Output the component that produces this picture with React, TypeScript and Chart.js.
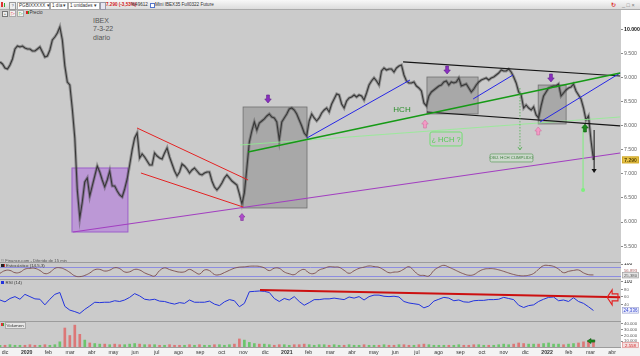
import React, { useEffect, useRef } from "react";
import { Chart, registerables } from "chart.js";

Chart.register(...registerables);

// ---------------- data ----------------
// x axis in months counted from 1 Dec 2019 (0 = dic 2019, 1 = ene 2020 ...)
const X_MIN = -0.23;
const X_MAX = 28.41;
const SERIES_START = -0.23; // week of 25 Nov 2019
const HALF_WEEK = 0.115; // price sampled twice a week
const WEEK = 0.23; // indicators and volume sampled weekly

const monthLabels = [
  "dic", "2020", "feb", "mar", "abr", "may", "jun", "jul", "ago", "sep", "oct", "nov",
  "dic", "2021", "feb", "mar", "abr", "may", "jun", "jul", "ago", "sep", "oct", "nov",
  "dic", "2022", "feb", "mar", "abr",
];
const priceTicks = [5500, 6000, 6500, 7000, 7500, 8000, 8500, 9000, 9500, 10000];
const stochTicks = [100];
const stochLevels = [20, 80];
const rsiTicks = [40, 60, 80, 100];
const volumeTicks = [10000, 20000, 30000, 40000];

const ibexClose = [
  9321, 9280, 9197, 9176, 9259, 9384, 9591, 9653, 9633, 9653,
  9612, 9591, 9591, 9550, 9550, 9591, 9633, 9529, 9425, 9446,
  9570, 9778, 9840, 9923, 10048, 9778, 9239, 8906, 8844, 8346,
  7744, 6666, 6085, 6417, 6832, 6915, 6541, 6749, 6956, 7164,
  7039, 6873, 6728, 6873, 7060, 6749, 6749, 6645, 6562, 6520,
  6686, 6894, 7184, 7496, 7744, 7848, 7330, 7413, 7350, 7267,
  7184, 7184, 7433, 7371, 7330, 7309, 7433, 7537, 7350, 7205,
  7060, 6956, 7039, 7205, 7164, 7101, 7018, 7080, 7122, 7060,
  6998, 6977, 7018, 7039, 7039, 6852, 6728, 6666, 6728, 6811,
  6915, 6977, 6915, 6852, 6811, 6770, 6583, 6375, 6603, 7122,
  7662, 7890, 8077, 7910, 8056, 8097, 8139, 8201, 8243, 8180,
  8160, 8077, 7703, 8077, 8160, 8243, 8346, 8367, 8325, 8243,
  8118, 7994, 7848, 7786, 8097, 8243, 8160, 8097, 8160, 8263,
  8325, 8367, 8284, 8450, 8554, 8658, 8637, 8450, 8367, 8512,
  8575, 8595, 8637, 8595, 8637, 8616, 8533, 8678, 8844, 8927,
  8990, 8927, 8844, 9135, 9197, 9155, 9176, 9176, 9114, 9197,
  9239, 9260, 9052, 8927, 8886, 8886, 8907, 8823, 8782, 8720,
  8471, 8409, 8616, 8699, 8740, 8782, 8823, 8844, 8907, 8927,
  8844, 8907, 8886, 8907, 8990, 8823, 8844, 8865, 8782, 8699,
  8761, 8844, 8907, 8948, 8969, 8990, 8948, 8990, 9010, 9052,
  9093, 9155, 9135, 9135, 9176, 9114, 9010, 8886, 8699, 8637,
  8367, 8429, 8367, 8325, 8388, 8222, 8160, 8409, 8616, 8699,
  8782, 8803, 8823, 8823, 8865, 8616, 8678, 8740, 8782, 8803,
  8865, 8720, 8637, 8554, 8367, 8118, 8201, 7703, 7288,
];
const lastPrice = 7290;

const stochastic = [
  38, 56, 57, 42, 45, 66, 71, 71, 57, 36,
  44, 71, 75, 64, 44, 21, 16, 24, 40, 62,
  64, 53, 59, 75, 69, 47, 48, 64, 60, 41,
  28, 20, 56, 74, 63, 53, 46, 48, 64, 48,
  33, 60, 56, 30, 29, 43, 58, 72, 79, 81,
  85, 86, 84, 74, 56, 72, 71, 47, 35, 29,
  52, 64, 40, 37, 60, 71, 82, 80, 78, 58,
  38, 55, 71, 79, 87, 83, 78, 60, 42, 46,
  49, 66, 82, 55, 27, 24, 20, 57, 79, 91,
  79, 64, 48, 34, 25, 29, 50, 65, 69, 68,
  61, 51, 40, 30, 23, 21, 25, 37, 65, 89,
  90, 84, 66, 42, 51, 57, 60, 41, 29, 27,
];
const stochLabels = [
  { value: 56, text: "56,893" },
  { value: 25, text: "25,380" },
];

const rsi14 = [
  52, 47, 56, 61, 54, 67, 61, 55, 54, 39,
  54, 67, 72, 35, 25, 21, 16, 27, 36, 46,
  45, 46, 46, 50, 48, 52, 59, 69, 63, 54,
  52, 54, 49, 48, 44, 41, 45, 43, 52, 46,
  46, 46, 49, 41, 37, 47, 53, 50, 34, 43,
  74, 75, 76, 75, 72, 56, 48, 56, 52, 61,
  48, 38, 45, 53, 53, 55, 55, 57, 55, 53,
  60, 57, 61, 52, 61, 65, 65, 62, 61, 62,
  60, 48, 44, 42, 40, 31, 36, 49, 54, 59,
  57, 50, 52, 47, 46, 50, 51, 51, 53, 53,
  54, 59, 56, 53, 38, 32, 37, 39, 48, 54,
  59, 60, 50, 52, 48, 58, 48, 43, 34, 24,
];
const lastRsi = 24.336;

const volumeK = [
  3, 3, 4, 3, 3, 3, 4, 3, 3, 4, 3, 4, 9, 33, 20, 38, 22, 12, 7, 6,
  5, 5, 4, 5, 4, 4, 5, 6, 5, 4, 4, 4, 3, 3, 4, 3, 3, 3, 4, 3,
  4, 3, 3, 4, 4, 3, 4, 5, 14, 12, 8, 6, 5, 5, 4, 3, 4, 4, 3, 4,
  4, 5, 4, 3, 4, 4, 3, 4, 3, 3, 4, 3, 3, 4, 3, 3, 3, 4, 3, 3,
  4, 4, 3, 3, 4, 5, 4, 3, 3, 3, 3, 3, 4, 3, 3, 4, 4, 3, 3, 3,
  4, 5, 4, 5, 7, 6, 5, 5, 5, 6, 7, 5, 5, 4, 5, 6, 7, 9, 10, 8,
];
const currentVolume = 2558;

// ---- drawn studies (price/time coordinates) ----
const purpleBox = { x0: 3.09, x1: 5.67, y0: 7122, y1: 5794 };
const grayBoxes = [
  { x0: 10.98, x1: 13.93, y0: 8388, y1: 6292 },
  { x0: 19.46, x1: 21.82, y0: 9010, y1: 8243 },
  { x0: 24.59, x1: 25.88, y0: 8844, y1: 8035 },
];
const supportLine = [[3.14, 5794], [28.37, 7433]];
const redChannel = [
  [[6.09, 7952], [11.21, 6873]],
  [[6.27, 7018], [10.98, 6313]],
];
const necklineHCH = [[11.21, 7454], [28.37, 9093]];
const lightGreenLine = [[10.84, 7599], [28.37, 8180]];
const blueLines = [
  [[13.93, 7745], [18.68, 8948]],
  [[21.59, 8554], [23.43, 9052]],
  [[24.68, 8077], [28.37, 9093]],
];
const blackChannel = [
  [[18.36, 9322], [28.37, 9031]],
  [[19.46, 8284], [28.37, 7994]],
];
const purpleDownArrows = [[12.13, 8554], [20.39, 9155], [25.18, 8990]];
const pinkUpArrows = [[19.37, 8035], [24.59, 7890]];
const purpleUpArrow = [10.93, 6105];
const greenUpArrow = [26.75, 7952];
const greenTarget = { x: 26.66, from: 8014, to: 6666 };
const hchObjective = { x: 23.75, from: 8782, to: 7496 };
const blackDrop = { x: 27.17, from: 7910, to: 7018 };
const hchLabel = { text: "HCH", x: 18.31, y: 8325 };
const hchQuestion = { text: "¿ HCH ?", x0: 19.6, x1: 21.08, y0: 7869, y1: 7579 };
const hchDone = { text: "OBJ. HCH CUMPLIDO", x0: 22.37, x1: 24.35, y0: 7413, y1: 7247 };
const rsiTrend = [[11.76, 78.7], [28.37, 59]];
const rsiArrow = { tip: 27.77, tail: 28.27, value: 59 };
const volumeArrow = { tip: 26.85, tail: 27.2, value: 10400 };

// ---------------- helpers ----------------
const FONT = "'Liberation Sans', Arial, sans-serif";
const fmtThousands = (v: number) =>
  String(Math.round(v)).replace(/\B(?=(\d{3})+(?!\d))/g, ".");

function seg(ctx: CanvasRenderingContext2D, x1: number, y1: number, x2: number, y2: number, color: string, width: number, dash: number[] = []) {
  ctx.save();
  ctx.strokeStyle = color;
  ctx.lineWidth = width;
  ctx.setLineDash(dash);
  ctx.beginPath();
  ctx.moveTo(x1, y1);
  ctx.lineTo(x2, y2);
  ctx.stroke();
  ctx.restore();
}

function blockArrow(ctx: CanvasRenderingContext2D, cx: number, cy: number, angle: number, fill: string, stroke: string, w = 7, h = 8) {
  const sw = w * 0.22, hw = w / 2;
  ctx.save();
  ctx.translate(cx, cy);
  ctx.rotate(angle);
  ctx.beginPath();
  ctx.moveTo(-sw, -h / 2);
  ctx.lineTo(sw, -h / 2);
  ctx.lineTo(sw, 0);
  ctx.lineTo(hw, 0);
  ctx.lineTo(0, h / 2);
  ctx.lineTo(-hw, 0);
  ctx.lineTo(-sw, 0);
  ctx.closePath();
  ctx.fillStyle = fill;
  ctx.fill();
  ctx.strokeStyle = stroke;
  ctx.lineWidth = 0.6;
  ctx.stroke();
  ctx.restore();
}

function axisBox(ctx: CanvasRenderingContext2D, left: number, y: number, text: string, fill: string, stroke: string, color: string, size = 4.6, bold = false) {
  ctx.save();
  ctx.font = `${bold ? "bold " : ""}${size}px ${FONT}`;
  const w = 17, h = size + 2;
  if (fill !== "none") {
    ctx.fillStyle = fill;
    ctx.fillRect(left + 1, y - h / 2, w, h);
  }
  if (stroke !== "none") {
    ctx.strokeStyle = stroke;
    ctx.lineWidth = 0.6;
    ctx.strokeRect(left + 1.5, y - h / 2 + 0.5, w - 1, h - 1);
  }
  ctx.fillStyle = color;
  ctx.textBaseline = "middle";
  ctx.textAlign = "center";
  ctx.fillText(text, left + 1 + w / 2, y + 0.3);
  ctx.restore();
}

const rightAxisFit = (s: any) => {
  s.width = 19;
  s.paddingTop = 0;
  s.paddingBottom = 0;
};

function rightAxis(min: number, max: number, ticks: number[], fontFn: any, colorFn: any) {
  return {
    type: "linear",
    position: "right",
    min,
    max,
    afterBuildTicks: (s: any) => {
      s.ticks = ticks.map((v) => ({ value: v }));
    },
    afterFit: rightAxisFit,
    ticks: {
      autoSkip: false,
      padding: 1,
      font: fontFn,
      color: colorFn,
      callback: (v: number) => fmtThousands(v),
    },
    grid: { drawOnChartArea: false, drawTicks: true, tickLength: 2, color: "#8a8a8a" },
    border: { display: false },
  };
}

const hiddenX = { type: "linear", min: X_MIN, max: X_MAX, display: false, offset: false };

const baseOptions = {
  responsive: false,
  animation: false,
  events: [],
  layout: { padding: 0, autoPadding: false },
  plugins: { legend: { display: false }, tooltip: { enabled: false } },
};

// ---------------- plugins ----------------
const mainStudies = {
  id: "mainStudies",
  beforeDatasetsDraw(chart: any) {
    const { ctx, scales } = chart;
    const X = (v: number) => scales.x.getPixelForValue(v);
    const Y = (v: number) => scales.y.getPixelForValue(v);
    ctx.save();
    ctx.fillStyle = "rgba(184,140,216,0.82)";
    ctx.fillRect(X(purpleBox.x0), Y(purpleBox.y0), X(purpleBox.x1) - X(purpleBox.x0), Y(purpleBox.y1) - Y(purpleBox.y0));
    ctx.strokeStyle = "#9b5fc9";
    ctx.lineWidth = 1;
    ctx.strokeRect(X(purpleBox.x0), Y(purpleBox.y0), X(purpleBox.x1) - X(purpleBox.x0), Y(purpleBox.y1) - Y(purpleBox.y0));
    grayBoxes.forEach((b) => {
      ctx.fillStyle = "rgba(118,118,118,0.42)";
      ctx.fillRect(X(b.x0), Y(b.y0), X(b.x1) - X(b.x0), Y(b.y1) - Y(b.y0));
      ctx.strokeStyle = "rgba(90,90,90,0.75)";
      ctx.lineWidth = 0.8;
      ctx.strokeRect(X(b.x0), Y(b.y0), X(b.x1) - X(b.x0), Y(b.y1) - Y(b.y0));
    });
    ctx.restore();
  },
  afterDatasetsDraw(chart: any) {
    const { ctx, scales } = chart;
    const X = (v: number) => scales.x.getPixelForValue(v);
    const Y = (v: number) => scales.y.getPixelForValue(v);
    const L = (l: number[][], c: string, w: number, d: number[] = []) =>
      seg(ctx, X(l[0][0]), Y(l[0][1]), X(l[1][0]), Y(l[1][1]), c, w, d);

    L(lightGreenLine, "#8ff08f", 0.8);
    L(supportLine, "#a23fc0", 1.2);
    redChannel.forEach((l) => L(l, "#e42222", 1));
    blackChannel.forEach((l) => L(l, "#151515", 1.2));
    blueLines.forEach((l) => L(l, "#2626e6", 1));
    L(necklineHCH, "#169a16", 1.5);

    const gx = X(greenTarget.x);
    seg(ctx, gx, Y(greenTarget.from), gx, Y(greenTarget.to), "#7df07d", 1);
    ctx.save();
    ctx.fillStyle = "#7df07d";
    ctx.beginPath();
    ctx.arc(gx, Y(greenTarget.to), 2, 0, Math.PI * 2);
    ctx.fill();
    ctx.restore();

    const ox = X(hchObjective.x), oyb = Y(hchObjective.to);
    seg(ctx, ox, Y(hchObjective.from), ox, oyb, "#4fae4f", 0.8, [1.5, 1.5]);
    seg(ctx, ox - 2, oyb - 3, ox, oyb, "#4fae4f", 0.8);
    seg(ctx, ox + 2, oyb - 3, ox, oyb, "#4fae4f", 0.8);

    const bx = X(blackDrop.x), byb = Y(blackDrop.to);
    seg(ctx, bx, Y(blackDrop.from), bx, byb - 3, "#111", 1);
    ctx.save();
    ctx.fillStyle = "#111";
    ctx.beginPath();
    ctx.moveTo(bx - 2.6, byb - 4);
    ctx.lineTo(bx + 2.6, byb - 4);
    ctx.lineTo(bx, byb);
    ctx.closePath();
    ctx.fill();
    ctx.restore();

    purpleDownArrows.forEach((a) => blockArrow(ctx, X(a[0]), Y(a[1]), 0, "#8a2fc0", "#5e1c8a", 6.5, 8));
    pinkUpArrows.forEach((a) => blockArrow(ctx, X(a[0]), Y(a[1]), Math.PI, "#f49ac6", "#d070a0", 6.5, 8));
    blockArrow(ctx, X(purpleUpArrow[0]), Y(purpleUpArrow[1]), Math.PI, "#b04ccc", "#80309a", 6, 7);
    blockArrow(ctx, X(greenUpArrow[0]), Y(greenUpArrow[1]), Math.PI, "#1e8c1e", "#0c560c", 6.5, 8);

    ctx.save();
    ctx.textAlign = "center";
    ctx.textBaseline = "middle";
    ctx.font = `8px ${FONT}`;
    ctx.fillStyle = "#2b8f2b";
    ctx.fillText(hchLabel.text, X(hchLabel.x), Y(hchLabel.y));

    const qx0 = X(hchQuestion.x0), qx1 = X(hchQuestion.x1), qy0 = Y(hchQuestion.y0), qy1 = Y(hchQuestion.y1);
    ctx.strokeStyle = "#72e072";
    ctx.lineWidth = 1;
    ctx.beginPath();
    (ctx as any).roundRect(qx0, qy0, qx1 - qx0, qy1 - qy0, 2);
    ctx.stroke();
    ctx.fillStyle = "#52cc52";
    ctx.font = `7.5px ${FONT}`;
    ctx.fillText(hchQuestion.text, (qx0 + qx1) / 2, (qy0 + qy1) / 2 + 0.5);

    const dx0 = X(hchDone.x0), dx1 = X(hchDone.x1), dy0 = Y(hchDone.y0), dy1 = Y(hchDone.y1);
    ctx.fillStyle = "rgba(205,225,205,0.6)";
    ctx.beginPath();
    (ctx as any).roundRect(dx0, dy0, dx1 - dx0, dy1 - dy0, 1.5);
    ctx.fill();
    ctx.strokeStyle = "#5c9e5c";
    ctx.lineWidth = 0.7;
    ctx.stroke();
    ctx.fillStyle = "#3d7f3d";
    ctx.font = `4.3px ${FONT}`;
    ctx.fillText(hchDone.text, (dx0 + dx1) / 2, (dy0 + dy1) / 2 + 0.3);
    ctx.restore();
  },
  afterDraw(chart: any) {
    const { ctx, scales, chartArea } = chart;
    axisBox(ctx, chartArea.right, scales.y.getPixelForValue(lastPrice), fmtThousands(lastPrice), "#e6c245", "#c49a20", "#5a4500", 5, true);
  },
};

const stochStudies = {
  id: "stochStudies",
  beforeDatasetsDraw(chart: any) {
    const { ctx, scales, chartArea } = chart;
    stochLevels.forEach((lv) => {
      const y = Math.round(scales.y.getPixelForValue(lv)) + 0.5;
      seg(ctx, chartArea.left, y, chartArea.right, y, "#8d8de0", 1);
    });
  },
  afterDraw(chart: any) {
    const { ctx, scales, chartArea } = chart;
    axisBox(ctx, chartArea.right, scales.y.getPixelForValue(stochLabels[0].value), stochLabels[0].text, "none", "none", "#a86060", 4.3);
    axisBox(ctx, chartArea.right, scales.y.getPixelForValue(stochLabels[1].value), stochLabels[1].text, "#e4e4e4", "#9a9a9a", "#555", 4.3);
  },
};

const rsiStudies = {
  id: "rsiStudies",
  afterDatasetsDraw(chart: any) {
    const { ctx, scales } = chart;
    const X = (v: number) => scales.x.getPixelForValue(v);
    const Y = (v: number) => scales.y.getPixelForValue(v);
    seg(ctx, X(rsiTrend[0][0]), Y(rsiTrend[0][1]), X(rsiTrend[1][0]), Y(rsiTrend[1][1]), "#cc1010", 2);
    const tx = X(rsiArrow.tip), ty = Y(rsiArrow.value), len = X(rsiArrow.tail) - tx;
    ctx.save();
    ctx.strokeStyle = "#e42020";
    ctx.lineWidth = 1.1;
    ctx.beginPath();
    ctx.moveTo(tx, ty);
    ctx.lineTo(tx + 5, ty - 7.5);
    ctx.lineTo(tx + 5, ty - 3.5);
    ctx.lineTo(tx + len, ty - 3.5);
    ctx.lineTo(tx + len, ty + 3.5);
    ctx.lineTo(tx + 5, ty + 3.5);
    ctx.lineTo(tx + 5, ty + 7.5);
    ctx.closePath();
    ctx.stroke();
    ctx.restore();
  },
  afterDraw(chart: any) {
    const { ctx, scales, chartArea } = chart;
    axisBox(ctx, chartArea.right, scales.y.getPixelForValue(lastRsi), lastRsi.toFixed(3).replace(".", ","), "#eef0ff", "#9aa0c8", "#3344cc", 4.5);
  },
};

const volumeStudies = {
  id: "volumeStudies",
  afterDatasetsDraw(chart: any) {
    const { ctx, scales } = chart;
    const tx = scales.x.getPixelForValue(volumeArrow.tip);
    const tl = scales.x.getPixelForValue(volumeArrow.tail) - tx;
    blockArrow(ctx, tx + tl / 2, scales.y.getPixelForValue(volumeArrow.value), Math.PI / 2, "#1e8c1e", "#0c560c", 5, tl);
  },
  afterDraw(chart: any) {
    const { ctx, scales, chartArea } = chart;
    axisBox(ctx, chartArea.right, scales.y.getPixelForValue(currentVolume) - 0.5, fmtThousands(currentVolume), "#f4dede", "#d88", "#d02020", 4.3);
  },
};

// ---------------- component ----------------
const abs = (left: number, top: number, extra: any = {}) => ({ position: "absolute" as const, left, top, ...extra });

export default function App() {
  const mainRef = useRef<HTMLCanvasElement>(null);
  const stochRef = useRef<HTMLCanvasElement>(null);
  const rsiRef = useRef<HTMLCanvasElement>(null);
  const volRef = useRef<HTMLCanvasElement>(null);

  useEffect(() => {
    Chart.defaults.font.family = FONT;
    const priceData = ibexClose.map((v, i) => ({ x: SERIES_START + i * HALF_WEEK, y: v }));
    const weekly = (arr: number[], k = 1) => arr.map((v, i) => ({ x: SERIES_START + i * WEEK, y: v * k }));

    const smallFont = () => ({ size: 5, family: FONT });
    const grayTick = () => "#555";

    const main = new Chart(mainRef.current!, {
      type: "line",
      data: {
        datasets: [
          // bar-range shade under the close line
          { data: priceData, borderColor: "rgba(70,70,70,0.42)", borderWidth: 3, pointRadius: 0, tension: 0 },
          { data: priceData, borderColor: "#2e2e2e", borderWidth: 1.1, pointRadius: 0, tension: 0 },
        ],
      },
      options: {
        ...baseOptions,
        scales: {
          x: hiddenX,
          y: rightAxis(
            5213,
            10400,
            priceTicks,
            (c: any) => ({ size: 5.2, family: FONT, weight: c.tick && c.tick.value === 10000 ? "bold" : "normal" }),
            (c: any) => (c.tick && c.tick.value === 10000 ? "#111" : "#666")
          ),
        },
      } as any,
      plugins: [mainStudies],
    });

    const stoch = new Chart(stochRef.current!, {
      type: "line",
      data: {
        datasets: [
          { data: weekly(stochastic), borderColor: "#7a4c4c", borderWidth: 0.9, pointRadius: 0, tension: 0.45 },
        ],
      },
      options: {
        ...baseOptions,
        scales: { x: hiddenX, y: rightAxis(0, 106.7, stochTicks, smallFont, () => "#222") },
      } as any,
      plugins: [stochStudies],
    });

    const rsi = new Chart(rsiRef.current!, {
      type: "line",
      data: {
        datasets: [
          { data: weekly(rsi14), borderColor: "#2233dd", borderWidth: 1, pointRadius: 0, tension: 0 },
        ],
      },
      options: {
        ...baseOptions,
        scales: {
          x: hiddenX,
          y: rightAxis(-4, 105.33, rsiTicks, (c: any) => ({ size: c.tick && c.tick.value === 100 ? 5 : 4.3, family: FONT }), (c: any) => (c.tick && c.tick.value === 100 ? "#222" : "#666")),
        },
      } as any,
      plugins: [rsiStudies],
    });

    const vol = new Chart(volRef.current!, {
      type: "bar",
      data: {
        datasets: [
          {
            data: weekly(volumeK, 1000),
            barThickness: 2,
            backgroundColor: (c: any) => {
              const i = c.dataIndex;
              const a = ibexClose[Math.min(2 * i, ibexClose.length - 1)];
              const b = ibexClose[Math.max(2 * i - 2, 0)];
              return a >= b ? "rgba(96,196,96,0.9)" : "rgba(222,110,110,0.9)";
            },
          },
        ],
      },
      options: {
        ...baseOptions,
        scales: {
          x: {
            type: "linear",
            min: X_MIN,
            max: X_MAX,
            offset: false,
            position: "bottom",
            afterBuildTicks: (s: any) => {
              s.ticks = monthLabels.map((_, i) => ({ value: i }));
            },
            afterFit: (s: any) => {
              s.height = 9;
              s.paddingLeft = 0;
              s.paddingRight = 0;
            },
            ticks: {
              autoSkip: false,
              maxRotation: 0,
              minRotation: 0,
              padding: 2,
              color: "#333",
              font: (c: any) => ({
                size: 5.2,
                family: FONT,
                weight: c.tick && /^\d{4}$/.test(monthLabels[Math.round(c.tick.value)]) ? "bold" : "normal",
              }),
              callback: (v: number) => monthLabels[Math.round(v)],
            },
            grid: { display: false, drawTicks: false },
            border: { display: false },
          },
          y: rightAxis(0, 45217, volumeTicks, () => ({ size: 4.3, family: FONT }), grayTick),
        },
      } as any,
      plugins: [volumeStudies],
    });

    return () => {
      main.destroy();
      stoch.destroy();
      rsi.destroy();
      vol.destroy();
    };
  }, []);

  const tb = { fontSize: 4.6, lineHeight: "6px", color: "#333", whiteSpace: "nowrap" as const };
  const sep = (top: number) => <div style={abs(0, top, { width: 621, height: 1, background: "#9c9c9c" })} />;

  return (
    <div style={{ position: "fixed", left: 0, top: 0, width: 640, height: 356, overflow: "hidden", background: "#cbcbcb", fontFamily: FONT }}>
      <div style={abs(0, 0, { width: 640, height: 9, background: "linear-gradient(#f8f8f8,#dcdcdc)", borderBottom: "1px solid #aaa" })}>
        <div style={abs(1, 2, { width: 1.5, height: 5, background: "#d33" })} />
        <div style={abs(3.5, 3, { width: 1.5, height: 4, background: "#3a3" })} />
        <div style={abs(9, 1.5, { width: 5, height: 6, border: "0.5px solid #999", background: "#eee", fontSize: 4, lineHeight: "6px", textAlign: "center", color: "#557" })}>?</div>
        <div style={abs(17, 1.5, { ...tb, width: 30, height: 6, background: "#fff", border: "0.5px solid #aaa", paddingLeft: 1 })}>PGBIXXXXX ▾</div>
        <div style={abs(50, 1.5, { ...tb, width: 15, height: 6, background: "#fff", border: "0.5px solid #aaa", paddingLeft: 1 })}>1 día ▾</div>
        <div style={abs(68, 1.5, { ...tb, width: 29, height: 6, background: "#fff", border: "0.5px solid #aaa", paddingLeft: 1 })}>1 unidades ▾</div>
        <div style={abs(100, 1.5, { width: 4, height: 6, background: "#e6e6f2", border: "0.5px solid #99a" })} />
        <div style={abs(106, 1.5, { ...tb, color: "#d01818", fontWeight: "bold" })}>7.290 (-3,53%)</div>
        <div style={abs(131, 1.5, { ...tb })}>%49612</div>
        <div style={abs(150, 2.5, { width: 3, height: 3, border: "0.5px solid #5577cc", background: "#fff" })} />
        <div style={abs(155, 1.5, { ...tb })}>Mini IBEX35 Full0322 Future</div>
        <div style={abs(611, 1.5, { ...tb, color: "#d33", fontWeight: "bold", fontSize: 6 })}>↻</div>
        <div style={abs(622, 0.5, { ...tb, color: "#777", fontSize: 5.5, lineHeight: "8px" })}>_ □ ×</div>
      </div>

      <div style={abs(621, 10, { width: 19, height: 346, background: "#ffffff" })} />
      <div style={abs(0, 347, { width: 640, height: 9, background: "#f3f3f3" })} />

      <div style={abs(2, 10.5, { width: 4, height: 4, border: "0.5px solid #777", background: "#eee", fontSize: 4, lineHeight: "4px", textAlign: "center", color: "#333" })}>+</div>
      <div style={abs(9, 10, { width: 5, height: 5, border: "0.5px solid #aaa", background: "#f4f4f4", color: "#d22", fontSize: 5, lineHeight: "5px", textAlign: "center" })}>▷</div>
      <div style={abs(17, 10, { width: 5, height: 5, border: "0.5px solid #aaa", background: "#f4f4f4", color: "#2a2", fontSize: 5, lineHeight: "5px", textAlign: "center" })}>▷</div>
      <div style={abs(25.5, 11, { width: 2, height: 3, background: "#d22" })} />
      <div style={abs(27.5, 11, { width: 1.5, height: 3, background: "#2a2" })} />
      <div style={abs(29.5, 10, { fontSize: 4.6, lineHeight: "5px", color: "#333" })}>Precio</div>

      <div style={abs(93, 16.5, { fontSize: 7, lineHeight: "8.6px", color: "#565656" })}>
        IBEX
        <br />
        7-3-22
        <br />
        diario
      </div>

      <canvas ref={mainRef} width={640} height={250} style={abs(0, 10, { width: 640, height: 250, display: "block" })} />
      <canvas ref={stochRef} width={640} height={16} style={abs(0, 263, { width: 640, height: 16, display: "block" })} />
      <canvas ref={rsiRef} width={640} height={41} style={abs(0, 280, { width: 640, height: 41, display: "block" })} />
      <canvas ref={volRef} width={640} height={35} style={abs(0, 321, { width: 640, height: 35, display: "block" })} />

      {sep(262)}
      {sep(279)}
      {sep(321)}
      {sep(347)}

      <div style={abs(1, 258.5, { fontSize: 4.2, lineHeight: "4px", color: "#555" })}>© Finance.com - Diferido de 15 min</div>
      <div style={abs(1, 264, { width: 2.5, height: 3, background: "#222", borderRight: "1.5px solid #c33" })} />
      <div style={abs(6, 263.3, { fontSize: 4.4, lineHeight: "5px", color: "#333" })}>Estocástico (14,5,3)</div>
      <div style={abs(1, 281, { width: 3, height: 3, background: "#2233dd" })} />
      <div style={abs(5.5, 280.3, { fontSize: 4.4, lineHeight: "5px", color: "#333" })}>RSI (14)</div>
      <div style={abs(1, 323, { width: 1.5, height: 3, background: "#d33" })} />
      <div style={abs(2.5, 323, { width: 1.5, height: 3, background: "#3a3" })} />
      <div style={abs(4.5, 322.3, { fontSize: 4.4, lineHeight: "5px", color: "#333", background: "#e6e6e6", border: "0.5px solid #aaa", padding: "0 1px" })}>Volumen</div>
    </div>
  );
}
